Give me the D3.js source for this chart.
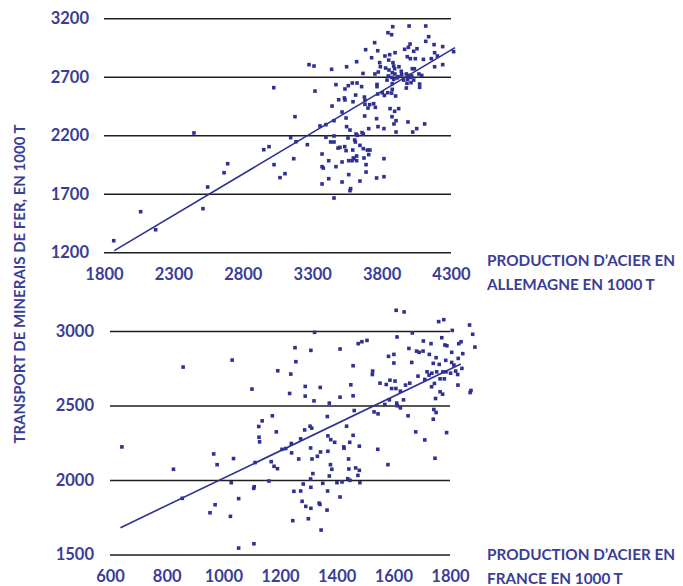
<!DOCTYPE html>
<html>
<head>
<meta charset="utf-8">
<script src="https://cdn.jsdelivr.net/npm/d3@7"></script>
<style>
  html, body { margin: 0; padding: 0; background: #fff; }
  svg { display: block; font-family: Lato, "Noto Sans", sans-serif; font-weight: 700; }
</style>
</head>
<body>
<svg id="chart" width="683" height="586"></svg>
<script>
// Germany: [steel production, iron-ore transport], both in 1000 t
const germanyPoints = [
  [1870,1299],[2064,1547],[2172,1393],[2448,2220],[2513,1573],[2547,1758],[2665,1880],[2691,1957],
  [2951,2077],[2989,2103],[3025,1949],[3068,1838],[3104,1872],[3145,2180],[3167,2000],[3183,2145],
  [3023,2607],[3176,2359],
  [3880,3128],[3998,3134],[4118,3134],[3846,3077],[3872,3060],[4139,3043],[3750,2992],[4005,2980],
  [4118,3003],[4178,2975],[4240,2958],[3685,2932],[3772,2923],[3966,2935],[3993,2952],[4031,2918],
  [4055,2940],[4319,2915],[4182,2906],[3858,2889],[3897,2906],[3824,2878],[3728,2863],[3985,2872],
  [4007,2855],[4043,2855],[4101,2849],[4158,2855],[4202,2878],[3620,2829],[3786,2821],[3851,2843],
  [3882,2821],[3277,2804],[3313,2792],[3440,2764],[3548,2786],[3791,2786],[3829,2775],[3887,2792],
  [3925,2786],[4021,2769],[4036,2769],[4182,2786],[4240,2804],[3776,2741],[3853,2758],[3877,2735],
  [3894,2769],[3942,2747],[3752,2724],[3848,2707],[3872,2695],[3896,2724],[3920,2701],[3945,2718],
  [3978,2724],[3997,2712],[4017,2707],[4069,2724],[4089,2712],[3666,2729],[3839,2672],[3887,2678],
  [3911,2690],[3959,2672],[3988,2678],[4007,2695],[4031,2672],[3471,2633],[3560,2624],[3536,2596],
  [3589,2647],[3623,2647],[3656,2616],[3767,2635],[3767,2616],[3877,2641],[3983,2644],[4012,2650],
  [4074,2638],[4074,2610],[3978,2604],[3320,2578],[3613,2544],[3676,2527],[3772,2553],[3805,2564],
  [3820,2541],[3844,2564],[3872,2561],[3877,2593],[3901,2536],[3491,2504],[3532,2519],[3536,2502],
  [3594,2487],[3680,2499],[3714,2462],[3743,2470],[3680,2465],
  [3443,2450],[3702,2433],[3755,2439],[3861,2428],[3923,2428],[3515,2399],[3894,2405],[3544,2348],
  [3457,2325],[3678,2365],[3764,2342],[3875,2359],[3904,2325],[3889,2297],[3990,2314],[4110,2297],
  [3356,2280],[3399,2291],[3548,2274],[3572,2245],[3707,2257],[3774,2274],[3817,2257],[4053,2257],
  [4024,2228],[3904,2228],[3616,2211],[3625,2200],[3659,2223],[3668,2211],[3399,2183],[3457,2194],
  [3558,2177],[3265,2120],[3433,2143],[3457,2143],[3606,2160],[3611,2143],[3486,2091],[3500,2097],
  [3534,2103],[3544,2069],[3592,2074],[3644,2114],[3668,2086],[3697,2074],[3716,2074],[3371,2040],
  [3707,2035],[3596,2006],[3620,2023],[3673,2006],[3817,2000],[3419,1983],[3515,1972],[3563,1983],
  [3587,1983],[3601,2000],[3620,1983],[3371,1932],[3380,1920],[3471,1932],[3688,1949],[3688,1886],
  [3419,1829],[3371,1784],[3515,1801],[3563,1864],[3644,1809],[3764,1835],[3817,1846],[3577,1744],
  [3572,1727],[3457,1664]
];
// France: [steel production, iron-ore transport], both in 1000 t
const francePoints = [
  [858,2758],[1031,2805],[1192,2733],[1238,2711],[1101,2610],[1234,2581],[1173,2431],[1137,2397],
  [1125,2359],[1187,2323],[1126,2287],[1128,2256],[642,2222],[966,2175],[1240,2245],[1220,2211],
  [1207,2206],[1241,2182],[1036,2144],[978,2103],[1112,2117],[1169,2123],[1179,2092],[1191,2076],
  [824,2072],[1161,1993],[1028,1982],[1109,1955],[1107,1944],[1249,1924],[855,1877],[1054,1875],
  [971,1834],[953,1780],[1025,1756],[1245,1727],[1108,1572],[1054,1543],
  [1610,3139],[1638,3128],[1760,3063],[1778,3076],[1869,3040],[1322,2991],[1667,2987],[1808,3004],
  [1880,2978],[1613,2960],[1771,2955],[1476,2915],[1489,2928],[1507,2937],[1706,2933],[1733,2915],
  [1782,2906],[1789,2901],[1831,2915],[1839,2928],[1253,2888],[1309,2870],[1412,2879],[1655,2883],
  [1682,2865],[1691,2857],[1705,2865],[1727,2843],[1806,2857],[1845,2848],[1888,2892],[1256,2794],
  [1583,2830],[1602,2843],[1602,2785],[1665,2789],[1751,2821],[1741,2783],[1762,2776],[1785,2803],
  [1806,2789],[1829,2816],[1814,2771],[1458,2767],[1842,2749],[1527,2731],[1526,2708],[1719,2726],
  [1736,2717],[1753,2726],[1775,2726],[1786,2726],[1802,2717],[1820,2731],[1827,2708],[1687,2697],
  [1711,2675],[1726,2704],[1765,2679],[1588,2670],[1606,2664],[1553,2650],[1575,2641],[1450,2639],
  [1289,2628],[1342,2621],[1643,2637],[1658,2650],[1745,2648],[1780,2679],[1594,2614],[1609,2614],
  [1625,2596],[1735,2626],[1828,2637],[1765,2592],[1774,2576],[1874,2601],[1871,2587],[1289,2563],
  [1412,2556],[1458,2565],[1749,2547],[1320,2531],[1374,2516],[1586,2538],[1636,2538],[1570,2507],
  [1612,2516],[1614,2498],[1625,2484],[1462,2466],[1532,2457],[1546,2444],[1743,2473],[1751,2453],
  [1367,2426],[1652,2431],[1741,2408],
  [1287,2336],[1306,2361],[1312,2348],[1435,2361],[1679,2323],[1788,2318],[1273,2276],[1369,2296],
  [1379,2271],[1393,2253],[1458,2300],[1446,2253],[1425,2222],[1426,2213],[1480,2227],[1545,2206],
  [1711,2269],[1308,2215],[1266,2141],[1313,2141],[1332,2159],[1343,2188],[1369,2193],[1442,2141],
  [1747,2146],[1581,2103],[1378,2103],[1383,2072],[1316,2043],[1374,2027],[1308,2007],[1443,2074],
  [1467,2081],[1480,2065],[1475,2031],[1439,2009],[1447,1998],[1401,1982],[1419,1987],[1482,1982],
  [1351,1978],[1282,1973],[1273,1926],[1309,1951],[1368,1926],[1412,1886],[1278,1857],[1291,1823],
  [1309,1810],[1338,1845],[1341,1836],[1366,1798],[1300,1740],[1345,1664]
];

// Fitted trend lines: start and end of each segment
const germanyTrendSteel = [1874, 4329];
const germanyTrendOre   = [1214, 2949];
const franceTrendSteel  = [637, 1838];
const franceTrendOre    = [1680, 2778];

// Tick values
const germanyXTicks = [1800, 2300, 2800, 3300, 3800, 4300];
const germanyYTicks = [1200, 1700, 2200, 2700, 3200];
const franceXTicks  = [600, 800, 1000, 1200, 1400, 1600, 1800];
const franceYTicks  = [1500, 2000, 2500, 3000];

// Axis titles
const yTitle = "TRANSPORT DE MINERAIS DE FER, EN 1000 T";
const germanyXTitle = ["PRODUCTION D\u2019ACIER EN", "ALLEMAGNE EN 1000 T"];
const franceXTitle  = ["PRODUCTION D\u2019ACIER EN", "FRANCE EN 1000 T"];

const markColor = "#2e3192";
const textColor = "#3a3e98";
const gridColor = "#1e1e1e";

const svg = d3.select("#chart");

function drawPanel(opt) {
  const x = d3.scaleLinear().domain(opt.xDomain).range(opt.xRange);
  const y = d3.scaleLinear().domain(opt.yDomain).range(opt.yRange);
  const g = svg.append("g");

  // horizontal grid lines with value labels on the left
  const yAxis = g.append("g")
    .attr("transform", `translate(${opt.xRange[0]},0)`)
    .call(d3.axisLeft(y).tickValues(opt.yTicks)
      .tickSize(-(opt.xRange[1] - opt.xRange[0]))
      .tickPadding(opt.yPad)
      .tickFormat(d3.format("d")));
  yAxis.select(".domain").remove();
  yAxis.selectAll("line").attr("stroke", gridColor).attr("stroke-width", 1.6);
  yAxis.selectAll("text").attr("fill", textColor).style("font-size", "16.5px")
    .style("font-weight", 700).style("font-family", "Lato, sans-serif");

  // value labels along the bottom
  const xAxis = g.append("g")
    .attr("transform", `translate(0,${opt.yRange[0]})`)
    .call(d3.axisBottom(x).tickValues(opt.xTicks).tickSize(0)
      .tickPadding(opt.xPad).tickFormat(d3.format("d")));
  xAxis.select(".domain").remove();
  xAxis.selectAll("text").attr("fill", textColor).style("font-size", "16.5px")
    .style("font-weight", 700).style("font-family", "Lato, sans-serif");

  // scatter points
  const s = 3.6;
  g.append("g").selectAll("rect").data(opt.points).join("rect")
    .attr("x", d => x(d[0]) - s / 2)
    .attr("y", d => y(d[1]) - s / 2)
    .attr("width", s).attr("height", s)
    .attr("fill", markColor);

  // trend line
  const trend = opt.trendX.map((v, i) => [v, opt.trendY[i]]);
  g.append("path")
    .datum(trend)
    .attr("d", d3.line().x(d => x(d[0])).y(d => y(d[1])))
    .attr("fill", "none").attr("stroke", markColor).attr("stroke-width", 1.6);

  // axis title to the right
  g.append("text")
    .attr("x", 487).attr("y", opt.titleY)
    .attr("fill", textColor).style("font-size", "15.3px")
    .selectAll("tspan").data(opt.title).join("tspan")
    .attr("x", 487).attr("dy", (d, i) => i === 0 ? 0 : 24)
    .text(d => d);
}

drawPanel({
  points: germanyPoints,
  xDomain: [1800, 4300], xRange: [104, 451],
  yDomain: [1200, 3200], yRange: [252.3, 18.3],
  xTicks: germanyXTicks, yTicks: germanyYTicks,
  trendX: germanyTrendSteel, trendY: germanyTrendOre,
  yPad: 15, xPad: 16,
  title: germanyXTitle, titleY: 266
});

drawPanel({
  points: francePoints,
  xDomain: [600, 1800], xRange: [110, 450],
  yDomain: [1500, 3000], yRange: [554.5, 331],
  xTicks: franceXTicks, yTicks: franceYTicks,
  trendX: franceTrendSteel, trendY: franceTrendOre,
  yPad: 16, xPad: 16,
  title: franceXTitle, titleY: 560
});

// shared vertical title
svg.append("text")
  .attr("transform", "translate(25,284) rotate(-90)")
  .attr("text-anchor", "middle")
  .attr("fill", textColor)
  .style("font-size", "15px")
  .text(yTitle);
</script>
</body>
</html>
